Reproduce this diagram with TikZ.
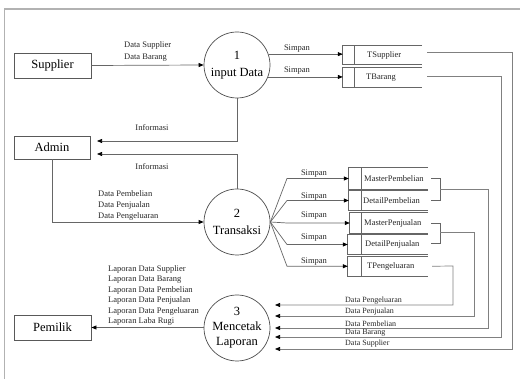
\documentclass[tikz,border=0pt]{standalone}
\usepackage{fontspec}
\setmainfont{Liberation Serif}
\usetikzlibrary{arrows.meta}
\begin{document}
\begin{tikzpicture}[x=1pt,y=-1pt,
  line/.style={draw=black!60, line width=0.7pt},
  rline/.style={draw=black!50, line width=0.7pt},
  tip/.style={-{Triangle[length=5pt,width=4pt,color=black]}},
  entity/.style={draw=black!65, line width=0.8pt, minimum width=77pt, minimum height=25pt, inner sep=0pt, font=\fontsize{12.5}{15}\selectfont},
  proc/.style={circle, draw=black!70, line width=0.7pt, minimum size=66pt, inner sep=0pt, align=center},
  lbl/.style={font=\fontsize{8.5}{10.5}\selectfont, inner sep=0pt, text=black!85},
  slbl/.style={font=\fontsize{8}{10}\selectfont, inner sep=0pt, text=black!85},
  storebox/.style={rectangle, inner sep=0pt},
  stext/.style={font=\fontsize{8.5}{10}\selectfont, inner sep=0pt, anchor=west, text=black!85},
  ]
\useasboundingbox (0,0) rectangle (520,379);
% frame
\draw[draw=black!30, line width=1.5pt] (4.5,379) -- (4.5,9) -- (520,9);

% entities
\node[entity] (sup) at (52.5,65.5) {Supplier};
\node[entity, minimum width=76pt, minimum height=23pt] (adm) at (52,147.5) {Admin};
\node[entity] (pem) at (52.5,327.5) {Pemilik};

% processes
\node[proc, font=\fontsize{12.5}{17}\selectfont] (p1) at (237,65) {1\\input Data};
\node[proc, font=\fontsize{12.5}{17}\selectfont] (p2) at (237,222) {2\\Transaksi};
\node[proc, font=\fontsize{12.5}{15}\selectfont] (p3) at (237,328) {3\\Mencetak\\Laporan};

% data stores
\node[storebox, minimum width=79pt, minimum height=18pt] (tsup) at (382.5,55) {};
\node[storebox, minimum width=79pt, minimum height=19pt] (tbar) at (382.5,77.5) {};
\node[storebox, minimum width=79pt, minimum height=21pt] (mp) at (388.5,178.5) {};
\node[storebox, minimum width=79pt, minimum height=19pt] (dp) at (388.5,200.5) {};
\node[storebox, minimum width=78pt, minimum height=20pt] (mj) at (389,223) {};
\node[storebox, minimum width=80pt, minimum height=19pt] (dj) at (388,244.5) {};
\node[storebox, minimum width=80pt, minimum height=19.5pt] (tp) at (388,266.25) {};
\foreach \s in {tsup,tbar,mp,dp,mj,dj,tp}{
  \draw[line] (\s.north east) -- (\s.north west) -- (\s.south west) -- (\s.south east);
}
\coordinate (dvt) at (354.3,0);
\coordinate (dvm) at (361,0);
\foreach \s in {tsup,tbar}{\draw[line] (dvt |- \s.north) -- (dvt |- \s.south);}
\foreach \s in {mp,dp,mj,dj,tp}{\draw[line] (dvm |- \s.north) -- (dvm |- \s.south);}
\node[stext] at (367,55) {TSupplier};
\node[stext] at (366,77.5) {TBarang};
\node[stext] at (364,178.5) {MasterPembelian};
\node[stext] at (363,200.5) {DetailPembelian};
\node[stext] at (364,223) {MasterPenjualan};
\node[stext] at (365,244.5) {DetailPenjualan};
\node[stext] at (367,266) {TPengeluaran};

% Supplier -> 1
\draw[line, tip] (sup.east) -- (p1.west);
\node[lbl, anchor=west] at (124,45.5) {Data Supplier};
\node[lbl, anchor=west] at (124,58) {Data Barang};

% 1 -> stores
\draw[line, tip] (p1.19.5) -- (p1.19.5 -| tsup.west);
\draw[line, tip] (p1.-21.3) -- (p1.-21.3 -| tbar.west);
\node[lbl] at (297,48.5) {Simpan};
\node[lbl] at (297,71) {Simpan};

% 1 -> Admin
\coordinate (a1) at (97,141);
\draw[line, tip] (p1.south) -- (p1.south |- a1) -- (a1);
\node[lbl] at (152,128) {Informasi};
% 2 -> Admin
\coordinate (a2) at (97,154);
\draw[line, tip] (p2.north) -- (p2.north |- a2) -- (a2);
\node[lbl] at (152,166.5) {Informasi};
% Admin -> 2
\draw[line, tip] (adm.south) -- (adm.south |- p2.west) -- (p2.west);
\node[lbl, anchor=west] at (98,194) {Data Pembelian};
\node[lbl, anchor=west] at (98,205) {Data Penjualan};
\node[lbl, anchor=west] at (98,216) {Data Pengeluaran};

% 2 -> stores (fan)
\coordinate (fx) at (287,0);
\foreach \s in {mp,dp,mj,dj,tp}{
  \draw[line, tip] (p2.east) -- (fx |- \s.west) -- (\s.west);
}
\node[lbl] at (314,174) {Simpan};
\node[lbl] at (314,196.5) {Simpan};
\node[lbl] at (314,215.5) {Simpan};
\node[lbl] at (314,238) {Simpan};
\node[lbl] at (314,261.5) {Simpan};

% 3 -> Pemilik
\draw[line, tip] (p3.west |- pem.east) -- (pem.east);
\node[lbl, anchor=west] at (108,269) {Laporan Data Supplier};
\node[lbl, anchor=west] at (108,279.5) {Laporan Data Barang};
\node[lbl, anchor=west] at (108,290) {Laporan Data Pembelian};
\node[lbl, anchor=west] at (108,300.5) {Laporan Data Penjualan};
\node[lbl, anchor=west] at (108,311) {Laporan Data Pengeluaran};
\node[lbl, anchor=west] at (108,321.5) {Laporan Laba Rugi};

% stores -> 3
\coordinate (e1) at (275,349);
\coordinate (e2) at (275,337);
\coordinate (e3) at (275,328);
\coordinate (e4) at (275,316);
\coordinate (e5) at (275,305);
\draw[rline, tip] ([xshift=5pt,yshift=3pt]tsup.east) -- (512,52) -- (512,349) -- (e1);
\draw[rline, tip] ([xshift=5pt,yshift=1.5pt]tbar.east) -- (501,76) -- (501,337) -- (e2);
\draw[line] ([xshift=3pt]mp.east) -- (440,178.5) -- (440,200.5) -- ([xshift=3pt]dp.east);
\draw[rline, tip] (440,189) -- (488,189) -- (488,328) -- (e3);
\draw[line] ([xshift=3pt]mj.east) -- (440,223) -- (440,243) -- ([xshift=3pt]dj.east |- 0,243);
\draw[rline, tip] (440,232.5) -- (474,232.5) -- (474,316) -- (e4);
\draw[rline, tip] ([xshift=4pt]tp.east) -- (453,266) -- (453,305) -- (e5);
\node[slbl, anchor=west] at (345,301) {Data Pengeluaran};
\node[slbl, anchor=west] at (345,312) {Data Penjualan};
\node[slbl, anchor=west] at (345,323.5) {Data Pembelian};
\node[slbl, anchor=west] at (345,333) {Data Barang};
\node[slbl, anchor=west] at (345,344) {Data Supplier};
\end{tikzpicture}
\end{document}
